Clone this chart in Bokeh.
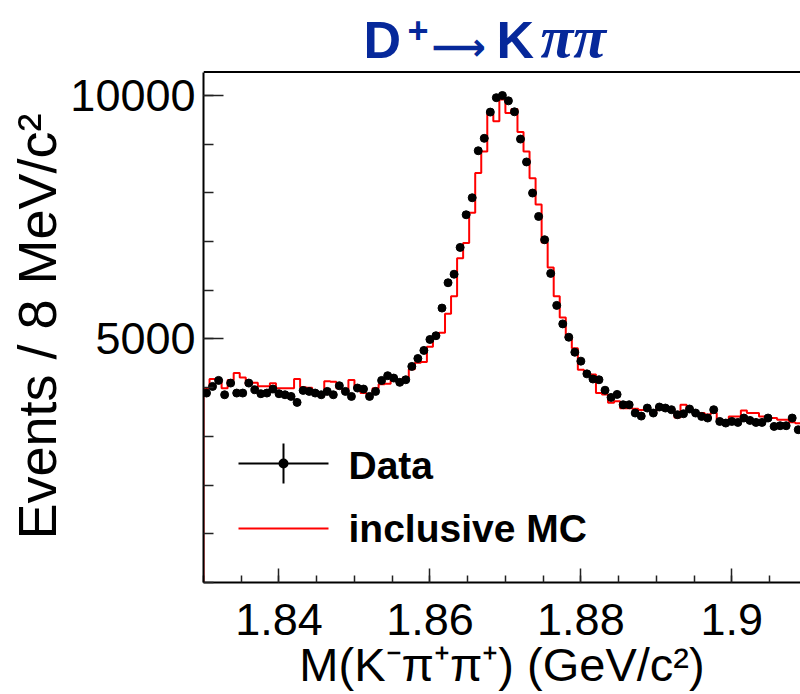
import numpy as np
from bokeh.plotting import figure
from bokeh.layouts import column
from bokeh.models import Range1d, FixedTicker, Label, BoxAnnotation, Span
from bokeh.embed import file_html
from bokeh.resources import INLINE

# ---------------- data ----------------
bin_low = 1.83
bin_width = 0.0008

data_counts = [
    3890, 4026, 4150, 3855, 4095, 3890, 3890, 4095, 3958, 3876,
    3890, 3972, 3876, 3855, 3821, 3698, 3944, 3924, 3890, 3855,
    3924, 3855, 4040, 3924, 3821, 3993, 3972, 3821, 3924, 4149,
    4246, 4198, 4110, 4163, 4437, 4600, 4765, 4990, 5067, 5635,
    6155, 6330, 6880, 7551, 7900, 8865, 9120, 9659, 9955, 10000,
    9890, 9665, 9105, 8635, 7997, 7516, 7038, 6347, 5690, 5310,
    5036, 4728, 4545, 4284, 4178, 4163, 3948, 3800, 3862, 3650,
    3650, 3480, 3417, 3582, 3480, 3603, 3582, 3548, 3445, 3465,
    3562, 3480, 3410, 3377, 3548, 3307, 3274, 3307, 3287, 3377,
    3328, 3287, 3287, 3377, 3205, 3219, 3219, 3377, 3137, 3200,
]

mc_counts = [
    3990, 4180, 4170, 3990, 4160, 4300, 4210, 4060, 4100, 4030,
    4030, 4090, 3990, 3990, 3990, 4180, 4010, 4000, 3870, 3830,
    4130, 4120, 3990, 3920, 4160, 3990, 3890, 3860, 3990, 4070,
    4080, 4160, 4100, 4210, 4380, 4510, 4530, 4840, 5050, 5130,
    5520, 5880, 6660, 6970, 7590, 8410, 8850, 9630, 9470, 9920,
    9640, 9720, 9250, 8850, 8300, 7760, 6980, 6470, 5880, 5440,
    5020, 4810, 4370, 4300, 4270, 3890, 3860, 3690, 3720, 3580,
    3580, 3570, 3540, 3560, 3500, 3610, 3600, 3560, 3390, 3650,
    3550, 3480, 3480, 3450, 3480, 3340, 3290, 3410, 3410, 3530,
    3480, 3480, 3410, 3380, 3380, 3340, 3340, 3290, 3270, 3270,
]

x_tick_values = [1.84, 1.86, 1.88, 1.90]
x_tick_labels = ["1.84", "1.86", "1.88", "1.9"]
y_tick_values = [5000, 10000]
y_tick_labels = ["5000", "10000"]

x_label = "M(K\u207b\u03c0\u207a\u03c0\u207a) (GeV/c\u00b2)"
y_label = "Events / 8 MeV/c\u00b2"
legend_labels = ["Data", "inclusive MC"]

# axis limits
x_min, x_max = 1.83, 1.9091
y_frame_top = 10480      # value at the top frame line
y_range_top = 10513

# ---------------- derived arrays ----------------
n = len(data_counts)
edges = bin_low + bin_width * np.arange(n + 1)
centers = edges[:-1] + bin_width / 2
step_x = np.concatenate([[edges[0]], edges])
step_y = np.concatenate([[0], mc_counts, [0]])

FONT = "Liberation Sans"
BLUE = "#06289a"

# ================= title strip (frame aligned with main plot frame) =================
t = figure(width=800, height=70, x_range=Range1d(0, 1), y_range=Range1d(0, 1),
           output_backend="svg", toolbar_location=None,
           min_border_left=0, min_border_right=0, min_border_top=0, min_border_bottom=0)
t.title.visible = False
t.axis.visible = False
t.grid.visible = False
t.outline_line_color = None
t.background_fill_color = "white"
t.border_fill_color = "white"


def lab(fig, text, x, y, size, style="bold", font=FONT, color=BLUE):
    fig.add_layout(Label(x=x, y=y, x_units="screen", y_units="screen", text=text,
                         text_font=font, text_font_size=size, text_font_style=style,
                         text_color=color, text_align="left",
                         text_baseline="middle"))


# D+ -> K pi pi   (x relative to the frame's left edge at 203 px)
lab(t, "D", 160, 31, "52px")
lab(t, "+", 204, 41, "36px")
lab(t, "\u27f6", 228, 24, "38px", font="DejaVu Sans")
lab(t, "K", 293, 31, "52px")
lab(t, "\u03c0\u03c0", 337, 34, "60px", style="bold italic", font="Liberation Serif")

# ================= main plot =================
p = figure(width=800, height=624,
           x_range=Range1d(x_min, x_max), y_range=Range1d(0, y_range_top),
           output_backend="svg", toolbar_location=None,
           min_border_left=203, min_border_right=0,
           min_border_top=0, min_border_bottom=112)
p.title.visible = False
p.outline_line_color = None
p.grid.visible = False
p.background_fill_color = "white"
p.border_fill_color = "white"

# MC histogram
p.step(step_x, step_y, mode="after", line_color="#ff0000", line_width=2)
# data points
p.scatter(centers, data_counts, size=8, marker="circle",
          fill_color="black", line_color="black")

# top frame line
p.add_layout(Span(location=y_frame_top, dimension="width",
                  line_color="black", line_width=2))

# ---------------- axes ----------------
xa = p.xaxis[0]
xa.ticker = FixedTicker(ticks=x_tick_values,
                        minor_ticks=list(np.round(np.arange(1.83, 1.9101, 0.005), 4)))
xa.major_label_overrides = {v: s for v, s in zip(x_tick_values, x_tick_labels)}
xa.major_tick_in = 14
xa.minor_tick_in = 7
xa.major_label_standoff = 21
xa.axis_label = x_label
xa.axis_label_standoff = 0
xa.axis_label_text_font_size = "47px"

ya = p.yaxis[0]
ya.bounds = (0, y_frame_top)
ya.ticker = FixedTicker(ticks=y_tick_values,
                        minor_ticks=list(range(0, 10001, 1000)))
ya.major_label_overrides = {v: s for v, s in zip(y_tick_values, y_tick_labels)}
ya.major_tick_in = 20
ya.minor_tick_in = 10
ya.major_label_standoff = 8
ya.axis_label = y_label
ya.axis_label_standoff = 0
ya.axis_label_text_font_size = "54px"

for ax in (xa, ya):
    ax.axis_line_width = 2
    ax.axis_line_color = "black"
    ax.major_tick_out = 0
    ax.minor_tick_out = 0
    ax.major_tick_line_width = 1.5
    ax.minor_tick_line_width = 1.5
    ax.major_tick_line_color = "#222222"
    ax.minor_tick_line_color = "#222222"
    ax.major_label_text_font = FONT
    ax.major_label_text_font_size = "45px"
    ax.major_label_text_color = "black"
    ax.axis_label_text_font = FONT
    ax.axis_label_text_font_style = "normal"
    ax.axis_label_text_color = "black"

# ---------------- legend (screen units, relative to the frame) ----------------
def box(l, r, b, t_, color, radius=0):
    p.add_layout(BoxAnnotation(left=l, right=r, bottom=b, top=t_,
                               left_units="screen", right_units="screen",
                               bottom_units="screen", top_units="screen",
                               fill_color=color, fill_alpha=1.0, line_color=None,
                               border_radius=radius, level="overlay"))


box(35, 125, 118, 120, "black")
box(79, 81, 99, 139, "black")
box(75, 85, 114, 124, "black", radius=5)
box(35, 125, 53, 55, "#ff0000")
lab(p, legend_labels[0], 145, 117, "39px", color="black")
lab(p, legend_labels[1], 145, 54, "39px", color="black")

layout = column(t, p, spacing=0)
open("out.html", "w").write(file_html(layout, INLINE))
